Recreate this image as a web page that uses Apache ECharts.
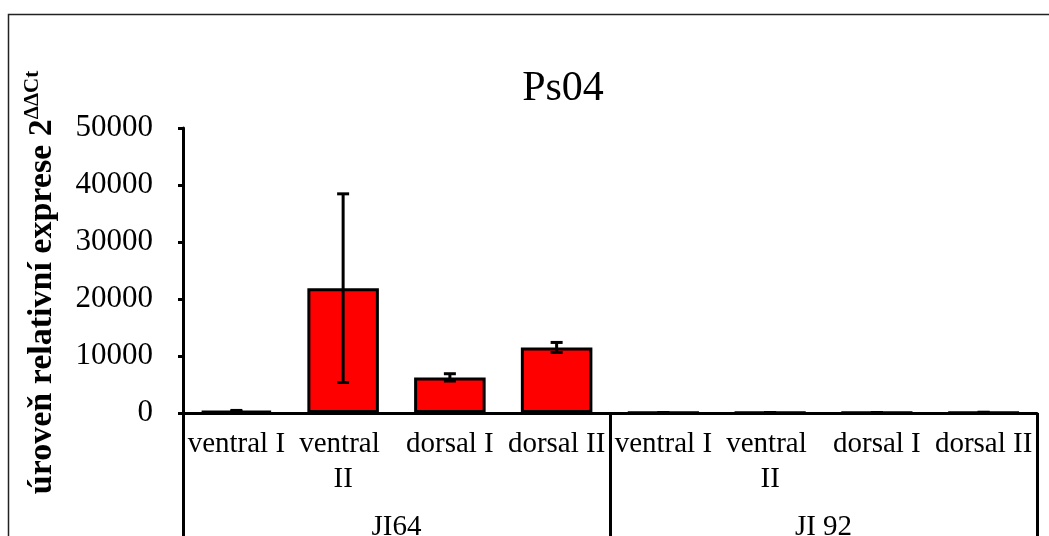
<!DOCTYPE html>
<html><head><meta charset="utf-8">
<script src="https://cdn.jsdelivr.net/npm/echarts@6/dist/echarts.min.js"></script>
<style>html,body{margin:0;padding:0;background:#fff;overflow:hidden}#c{width:1049px;height:536px}</style>
</head><body><div id="c"></div>
<script>
// ---- data ----
const categories = ['ventral I', 'ventral II', 'dorsal I', 'dorsal II', 'ventral I', 'ventral II', 'dorsal I', 'dorsal II'];
const groups = ['JI64', 'JI 92'];
const values = [350, 21900, 6250, 11500, 60, 60, 60, 110];
const errors = [100, 16550, 640, 880, 20, 20, 20, 30];
const yMin = 0, yMax = 50000, yInterval = 10000;
const titleText = 'Ps04';
const yTitleMain = 'úroveň relativní exprese 2';
const yTitleSup = 'ΔΔCt';

const FONT = '"Liberation Serif", "Times New Roman", serif';
const errData = values.map((v, i) => [i, v - errors[i], v + errors[i]]);

function renderErr(params, api) {
  const x = api.value(0);
  const lo = api.coord([x, api.value(1)]);
  const hi = api.coord([x, api.value(2)]);
  const hw = 6;
  const style = { stroke: '#000', lineWidth: 3 };
  return { type: 'group', children: [
    { type: 'line', shape: { x1: hi[0], y1: hi[1], x2: lo[0], y2: lo[1] }, style },
    { type: 'line', shape: { x1: hi[0] - hw, y1: hi[1], x2: hi[0] + hw, y2: hi[1] }, style },
    { type: 'line', shape: { x1: lo[0] - hw, y1: lo[1], x2: lo[0] + hw, y2: lo[1] }, style }
  ]};
}

const chart = echarts.init(document.getElementById('c'), null, { renderer: 'canvas' });
chart.setOption({
  animation: false,
  backgroundColor: '#fff',
  graphic: [{ type: 'rect', shape: { x: 8.5, y: 14.5, width: 1200, height: 700 },
              style: { fill: 'none', stroke: '#222', lineWidth: 1.5 }, z: -1 }],
  title: { text: titleText, left: 558, top: 63, textAlign: 'center',
           textStyle: { fontFamily: FONT, fontSize: 42, fontWeight: 'normal', color: '#000' } },
  grid: { left: 183, right: 12, top: 128, bottom: 123, outerBoundsMode: 'none', containLabel: false },
  xAxis: [{
    type: 'category', data: categories, gridIndex: 0,
    axisLine: { show: true, lineStyle: { color: '#000', width: 3 } },
    axisTick: { show: false },
    axisLabel: { interval: 0, color: '#000', fontFamily: FONT, fontSize: 29, margin: 14,
                 lineHeight: 35, width: 102, overflow: 'break', align: 'center' }
  }, {
    type: 'category', data: groups, gridIndex: 0, position: 'bottom',
    axisLine: { show: false },
    axisTick: { show: true, length: 140, lineStyle: { color: '#000', width: 3 } },
    axisLabel: { interval: 0, color: '#000', fontFamily: FONT, fontSize: 29, margin: 99, lineHeight: 30 }
  }],
  yAxis: {
    type: 'value', min: yMin, max: yMax, interval: yInterval,
    name: yTitleMain + '{sup|' + yTitleSup + '}',
    nameLocation: 'middle', nameRotate: 90, nameGap: 121,
    nameTextStyle: { fontFamily: FONT, fontSize: 34, fontWeight: 'bold', color: '#000', lineHeight: 40,
      padding: [0, 24, 0, 0],
      rich: { sup: { fontFamily: FONT, fontSize: 21, fontWeight: 'bold', color: '#000', verticalAlign: 'top', lineHeight: 40 } } },
    axisLine: { show: true, lineStyle: { color: '#000', width: 3 } },
    axisTick: { show: true, length: 5, lineStyle: { color: '#000', width: 3 } },
    splitLine: { show: false },
    axisLabel: { color: '#000', fontFamily: FONT, fontSize: 31, margin: 30, formatter: v => String(v) }
  },
  series: [{
    type: 'bar', data: values, xAxisIndex: 0, barWidth: '67%',
    itemStyle: { color: '#ff0000', borderColor: '#000', borderWidth: 3 }
  }, {
    type: 'custom', data: errData, xAxisIndex: 0, renderItem: renderErr,
    encode: { x: 0, y: [1, 2] }, z: 5
  }]
});
</script></body></html>
